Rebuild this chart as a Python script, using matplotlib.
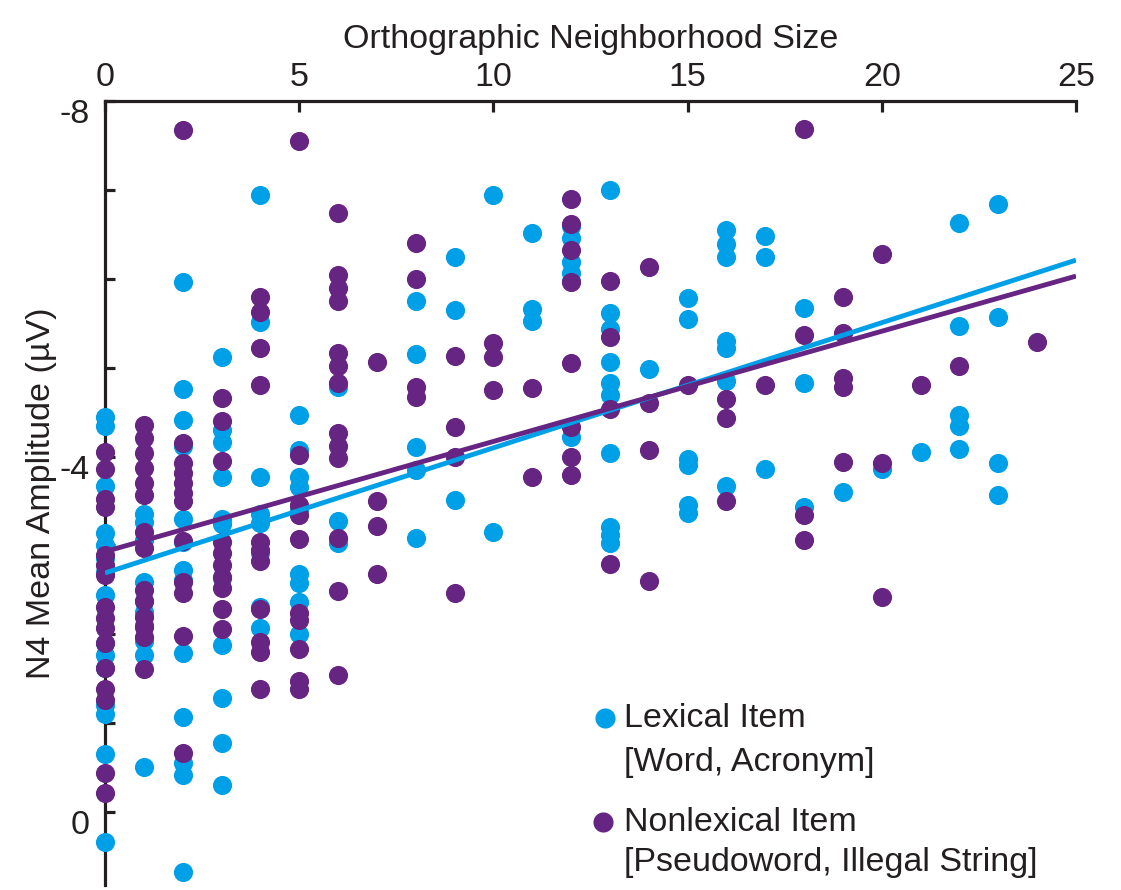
import numpy as np
import matplotlib.pyplot as plt
from matplotlib.ticker import FixedLocator, FuncFormatter
from matplotlib.transforms import ScaledTranslation

plt.rcParams['font.family'] = ['Liberation Sans', 'DejaVu Sans']

LEX_COLOR = '#00a0e9'
NONLEX_COLOR = '#662483'
INK = '#231f20'
FS = 24.5

# N4 amplitude (uV) per item, grouped by orthographic neighborhood size
lexical_sizes = [0, 1, 2, 3, 4, 5, 6, 8, 9, 10, 11, 12, 13, 14, 15, 16, 17, 18, 19, 20, 21, 22, 23]
lexical_amps = [
    [-4.45, -4.34, -3.67, -3.14, -3.01, -2.86, -2.70, -2.44, -1.90, -1.77, -1.62, -1.21, -1.10, -0.65, 0.34],
    [-3.35, -3.26, -3.06, -2.59, -2.38, -2.25, -2.10, -1.93, -1.77, -0.51],
    [-5.96, -4.76, -4.41, -4.12, -3.30, -3.04, -2.72, -2.61, -1.79, -1.07, -0.55, -0.42, 0.67],
    [-5.12, -4.30, -4.16, -3.77, -3.30, -3.24, -2.63, -1.88, -1.28, -0.78, -0.31],
    [-6.94, -5.51, -3.77, -3.35, -3.25, -2.91, -2.31, -2.07],
    [-4.47, -4.07, -3.77, -3.66, -3.40, -2.68, -2.58, -2.36, -2.00],
    [-4.78, -3.28, -3.03],
    [-5.75, -5.15, -4.11, -3.85, -3.08],
    [-6.25, -5.65, -3.51],
    [-6.94, -3.15],
    [-6.52, -5.66, -5.53],
    [-6.59, -6.46, -6.19, -6.07, -5.98, -4.22],
    [-7.00, -5.61, -5.44, -5.06, -4.83, -4.69, -4.04, -3.21, -3.12, -3.03],
    [-4.99],
    [-5.78, -5.55, -3.97, -3.91, -3.45, -3.37],
    [-6.55, -6.39, -6.25, -5.30, -5.22, -4.85, -3.67],
    [-6.48, -6.25, -3.86],
    [-5.67, -4.83, -3.43],
    [-3.60],
    [-3.86],
    [-4.05],
    [-6.63, -5.47, -4.47, -4.34, -4.08],
    [-6.84, -5.57, -3.93, -3.57],
]

nonlexical_sizes = [0, 1, 2, 3, 4, 5, 6, 7, 8, 9, 10, 11, 12, 13, 14, 15, 16, 17, 18, 19, 20, 21, 22, 24]
nonlexical_amps = [
    [-4.05, -3.86, -3.52, -3.43, -2.89, -2.78, -2.67, -2.31, -2.18, -2.07, -1.90, -1.62, -1.39, -1.26, -0.44, -0.22],
    [-4.36, -4.21, -4.04, -3.87, -3.70, -3.57, -3.15, -2.97, -2.50, -2.38, -2.19, -2.08, -1.97, -1.61],
    [-7.67, -4.15, -3.93, -3.81, -3.70, -3.59, -3.50, -3.05, -2.59, -2.47, -1.98, -0.67],
    [-4.66, -4.40, -3.95, -3.04, -2.91, -2.78, -2.64, -2.52, -2.28, -2.06],
    [-5.80, -5.63, -5.22, -4.80, -3.04, -2.95, -2.83, -2.28, -1.91, -1.80, -1.39],
    [-7.55, -4.02, -3.45, -3.34, -3.07, -2.24, -2.16, -1.84, -1.48, -1.39],
    [-6.74, -6.04, -5.90, -5.75, -5.17, -5.02, -4.83, -4.26, -4.12, -3.98, -3.08, -2.49, -1.54],
    [-5.06, -3.50, -3.22, -2.68],
    [-6.40, -6.00, -4.78, -4.67],
    [-5.13, -4.33, -3.99, -2.47],
    [-5.28, -5.12, -4.75],
    [-4.77, -3.77],
    [-6.90, -6.62, -6.32, -5.96, -5.05, -4.33, -3.99, -3.79],
    [-5.98, -5.34, -4.53, -2.79],
    [-6.13, -4.60, -4.07, -2.60],
    [-4.80],
    [-4.65, -4.43, -3.50],
    [-4.81],
    [-7.69, -5.37, -3.34, -3.06],
    [-5.80, -5.39, -4.88, -4.78, -3.94],
    [-6.28, -3.93, -2.42],
    [-4.80],
    [-5.02],
    [-5.29],
]

# linear fit endpoints
fit_n = [0, 25]
lexical_fit = [-2.69, -6.21]
nonlexical_fit = [-2.93, -6.03]

x_ticks = [0, 5, 10, 15, 20, 25]
y_ticks = [-8, -7, -6, -5, -4, -3, -2, -1, 0]
y_labeled = [-8, -4, 0]


def flatten(sizes, amps):
    xs = np.concatenate([[n] * len(a) for n, a in zip(sizes, amps)])
    ys = np.concatenate(amps)
    return xs, ys


lex_x, lex_y = flatten(lexical_sizes, lexical_amps)
non_x, non_y = flatten(nonlexical_sizes, nonlexical_amps)

fig = plt.figure(figsize=(11.21, 8.9), dpi=100)
ax = fig.add_axes([105 / 1121, 5 / 890, 971 / 1121, 784 / 890])

ax.scatter(lex_x, lex_y, s=190, color=LEX_COLOR, linewidths=0, zorder=3, clip_on=False)
ax.scatter(non_x, non_y, s=190, color=NONLEX_COLOR, linewidths=0, zorder=3, clip_on=False)
ax.plot(fit_n, lexical_fit, color=LEX_COLOR, lw=3.5, zorder=4, solid_capstyle='butt')
ax.plot(fit_n, nonlexical_fit, color=NONLEX_COLOR, lw=3.5, zorder=4, solid_capstyle='butt')

ax.set_xlim(0, 25)
ax.set_ylim(0.82, -8)

for side in ['right', 'bottom']:
    ax.spines[side].set_visible(False)
for side in ['left', 'top']:
    ax.spines[side].set_color(INK)
    ax.spines[side].set_linewidth(2.3)

ax.xaxis.set_major_locator(FixedLocator(x_ticks))
ax.yaxis.set_major_locator(FixedLocator(y_ticks))
ax.yaxis.set_major_formatter(FuncFormatter(lambda v, p: f'{v:g}' if round(v) in y_labeled else ''))
ax.tick_params(axis='x', top=True, bottom=False, labeltop=True, labelbottom=False,
               direction='in', length=8, width=2.3, color=INK, pad=6, labelsize=FS, labelcolor=INK)
ax.tick_params(axis='y', direction='in', length=7, width=2.3, color=INK, pad=11,
               labelsize=FS, labelcolor=INK)

# tick labels sit slightly below their ticks
offset = ScaledTranslation(0, -10 / 100, fig.dpi_scale_trans)
for lab in ax.get_yticklabels():
    lab.set_transform(lab.get_transform() + offset)

ax.xaxis.set_label_position('top')
ax.set_xlabel('Orthographic Neighborhood Size', fontsize=FS, color=INK, labelpad=10)
ax.set_ylabel('N4 Mean Amplitude (µV)', fontsize=FS, color=INK, labelpad=2)

# legend
ax.scatter([0.515], [0.213], s=210, color=LEX_COLOR, linewidths=0, transform=ax.transAxes, clip_on=False)
ax.text(0.5345, 0.213, 'Lexical Item', transform=ax.transAxes, fontsize=FS, color=INK, va='center')
ax.text(0.5345, 0.156, '[Word, Acronym]', transform=ax.transAxes, fontsize=FS, color=INK, va='center')
ax.scatter([0.513], [0.080], s=210, color=NONLEX_COLOR, linewidths=0, transform=ax.transAxes, clip_on=False)
ax.text(0.5345, 0.080, 'Nonlexical Item', transform=ax.transAxes, fontsize=FS, color=INK, va='center')
ax.text(0.5345, 0.029, '[Pseudoword, Illegal String]', transform=ax.transAxes, fontsize=FS, color=INK, va='center')

fig.savefig('out.png', dpi=100)
